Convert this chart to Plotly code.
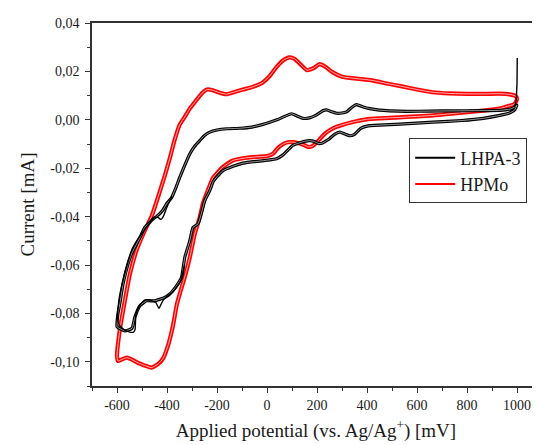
import plotly.graph_objects as go

# ---------------- data ----------------
# HPMo (red) : full cyclic loop, potential in mV, current in mA
hpmo_potential = [
    -600, -589, -569, -549, -522, -490, -462, -436, -410, -389, -370, -349, -329, -309,
    -285, -260, -240, -220, -190, -162, -130, -96, -60, -20, 10, 38, 64, 90, 110, 135,
    160, 185, 211, 235, 260, 300, 360, 420, 480, 540, 600, 660, 730, 800, 870, 930, 970,
    995, 1000,
    990, 970, 930, 865, 780, 664, 531, 450, 398, 340, 304, 270, 238, 215, 198, 180, 165,
    150, 131, 105, 84, 65, 45, 24, 0, -40, -82, -136, -176, -200, -216, -236, -256, -269,
    -289, -309, -329, -345, -360, -376, -395, -415, -436, -462, -490, -515, -542, -560,
    -580, -596, -600]
hpmo_current = [
    -0.0975, -0.0870, -0.0750, -0.0640, -0.0540, -0.0460, -0.0400, -0.0320, -0.0235,
    -0.0160, -0.0085, -0.0020, 0.0012, 0.0046, 0.0078, 0.0110, 0.0125, 0.0123, 0.0112,
    0.0106, 0.0115, 0.0125, 0.0135, 0.0152, 0.0180, 0.0218, 0.0245, 0.0258, 0.0252,
    0.0228, 0.0205, 0.0213, 0.0230, 0.0218, 0.0198, 0.0178, 0.0170, 0.0163, 0.0150,
    0.0138, 0.0125, 0.0114, 0.0109, 0.0107, 0.0107, 0.0108, 0.0105, 0.0098, 0.0085,
    0.0065, 0.0058, 0.0046, 0.0038, 0.0030, 0.0018, 0.0010, 0.0006, 0.0002, -0.0010,
    -0.0020, -0.0032, -0.0052, -0.0075, -0.0095, -0.0110, -0.0112, -0.0105, -0.0098,
    -0.0092, -0.0093, -0.0100, -0.0115, -0.0140, -0.0150, -0.0153, -0.0157, -0.0168,
    -0.0195, -0.0220, -0.0240, -0.0290, -0.0345, -0.0403, -0.0472, -0.0570, -0.0650,
    -0.0705, -0.0760, -0.0850, -0.0930, -0.0985, -0.1010, -0.1024, -0.1015, -0.1005,
    -0.0990, -0.0983, -0.0990, -0.0997, -0.0975]

# LHPA-3 (black) : main cyclic loop
lhpa_potential = [
    -600, -596, -589, -576, -556, -540, -522, -505, -489, -470, -456, -440, -420, -400,
    -382, -365, -349, -330, -309, -290, -269, -250, -229, -200, -160, -109, -60, -20, 11,
    40, 64, 98, 120, 144, 170, 195, 225, 238, 260, 278, 300, 318, 340, 358, 385, 411, 450,
    491, 560, 651, 750, 850, 931, 975, 995, 1000,
    990, 970, 931, 865, 780, 664, 531, 450, 400, 375, 350, 331, 310, 291, 270, 250, 238,
    220, 205, 190, 171, 150, 125, 104, 84, 64, 38, 0, -40, -69, -100, -136, -176, -200,
    -215, -229, -249, -262, -276, -296, -309, -329, -342, -362, -389, -409, -430, -449,
    -482, -509, -529, -540, -569, -596, -600]
lhpa_current = [
    -0.0855, -0.0800, -0.0762, -0.0679, -0.0596, -0.0550, -0.0514, -0.0480, -0.0445,
    -0.0425, -0.0410, -0.0398, -0.0378, -0.0345, -0.0322, -0.0282, -0.0238, -0.0190,
    -0.0141, -0.0110, -0.0086, -0.0065, -0.0051, -0.0042, -0.0037, -0.0035, -0.0030,
    -0.0020, -0.0010, 0.0000, 0.0011, 0.0025, 0.0016, 0.0006, 0.0008, 0.0018, 0.0038,
    0.0041, 0.0033, 0.0027, 0.0028, 0.0033, 0.0052, 0.0063, 0.0053, 0.0046, 0.0040,
    0.0037, 0.0035, 0.0036, 0.0037, 0.0038, 0.0039, 0.0045, 0.0055, 0.0060,
    0.0040, 0.0028, 0.0018, 0.0006, -0.0003, -0.0010, -0.0018, -0.0022, -0.0026,
    -0.0035, -0.0060, -0.0066, -0.0058, -0.0051, -0.0060, -0.0078, -0.0086, -0.0097,
    -0.0098, -0.0090, -0.0086, -0.0089, -0.0097, -0.0105, -0.0125, -0.0145, -0.0161,
    -0.0167, -0.0172, -0.0175, -0.0180, -0.0192, -0.0210, -0.0235, -0.0255, -0.0293,
    -0.0334, -0.0385, -0.0430, -0.0445, -0.0500, -0.0569, -0.0652, -0.0686, -0.0720,
    -0.0734, -0.0742, -0.0748, -0.0748, -0.0769, -0.0817, -0.0862, -0.0872, -0.0859,
    -0.0855]

# LHPA-3 (black) : second cycle where it departs from the first (cathodic end)
lhpa_cycle2_potential = [
    -330, -345, -360, -380, -400, -415, -425, -432, -445, -470, -490, -505, -518, -525,
    -528, -535, -555, -575, -592, -598, -596, -590, -580, -560, -540, -515, -490, -465,
    -450, -436, -425, -415, -400, -380]
lhpa_cycle2_current = [
    -0.0600, -0.0665, -0.0690, -0.0715, -0.0730, -0.0745, -0.0765, -0.0780, -0.0755,
    -0.0745, -0.0745, -0.0762, -0.0785, -0.0810, -0.0868, -0.0878, -0.0875, -0.0865,
    -0.0845, -0.0820, -0.0780, -0.0730, -0.0680, -0.0600, -0.0535, -0.0490, -0.0455,
    -0.0420, -0.0405, -0.0403, -0.0412, -0.0400, -0.0360, -0.0315]

# LHPA-3 (black) : final anodic spike at the upper vertex
lhpa_spike_potential = [990, 997, 1000, 1001]
lhpa_spike_current = [0.0052, 0.0080, 0.0150, 0.0255]

series_names = ["LHPA-3", "HPMo"]
series_colors = ["#000000", "#ff0000"]

x_tick_vals = [-600, -400, -200, 0, 200, 400, 600, 800, 1000]
x_tick_text = ["-600", "-400", "-200", "0", "200", "400", "600", "800", "1000"]
x_minor_vals = [-700, -500, -300, -100, 100, 300, 500, 700, 900]
y_tick_vals = [-0.10, -0.08, -0.06, -0.04, -0.02, 0.00, 0.02, 0.04]
y_tick_text = ["-0,10", "-0,08", "-0,06", "-0,04", "-0,02", "0,00", "0,02", "0,04"]
y_minor_vals = [-0.11, -0.09, -0.07, -0.05, -0.03, -0.01, 0.01, 0.03]

FONT = "Liberation Serif, Times New Roman, serif"
TXT = "#1a1a1a"

fig = go.Figure()

# red loop: thick red with a light centre line (overlapping cycles look)
fig.add_trace(go.Scatter(x=hpmo_potential, y=hpmo_current, mode="lines",
                         line=dict(color=series_colors[1], width=4.2, shape="spline", smoothing=0.5),
                         showlegend=False, hoverinfo="skip"))
fig.add_trace(go.Scatter(x=hpmo_potential, y=hpmo_current, mode="lines",
                         line=dict(color="#ffc8c8", width=0.9, shape="spline", smoothing=0.5),
                         showlegend=False, hoverinfo="skip"))

# black loop
fig.add_trace(go.Scatter(x=lhpa_potential, y=lhpa_current, mode="lines",
                         line=dict(color=series_colors[0], width=3.2, shape="spline", smoothing=0.4),
                         showlegend=False, hoverinfo="skip"))
fig.add_trace(go.Scatter(x=lhpa_potential, y=lhpa_current, mode="lines",
                         line=dict(color="#d8d8d8", width=0.7, shape="spline", smoothing=0.4),
                         showlegend=False, hoverinfo="skip"))
fig.add_trace(go.Scatter(x=lhpa_cycle2_potential, y=lhpa_cycle2_current, mode="lines",
                         line=dict(color=series_colors[0], width=1.4, shape="spline", smoothing=0.4),
                         showlegend=False, hoverinfo="skip"))
fig.add_trace(go.Scatter(x=lhpa_spike_potential, y=lhpa_spike_current, mode="lines",
                         line=dict(color=series_colors[0], width=1.4),
                         showlegend=False, hoverinfo="skip"))

# legend entries
for name, col in zip(series_names, series_colors):
    fig.add_trace(go.Scatter(x=[None], y=[None], mode="lines", name=name,
                             line=dict(color=col, width=2)))

axis_common = dict(
    showline=True, linecolor="#333333", linewidth=1.5,
    ticks="outside", tickcolor="#333333", tickwidth=1.3, ticklen=5,
    showgrid=False, zeroline=False, automargin=False,
    tickfont=dict(family=FONT, size=14, color=TXT),
)

# the page has an 8px body margin, so the figure is sized to fill the window
fig.update_layout(
    width=532, height=437,
    margin=dict(l=84, r=0, t=15, b=59),
    paper_bgcolor="white", plot_bgcolor="white",
    font=dict(family=FONT, color=TXT),
    xaxis=dict(range=[-700, 1092], tickmode="array", tickvals=x_tick_vals, ticktext=x_tick_text,
               mirror=True,
               minor=dict(tickmode="array", tickvals=x_minor_vals, ticks="outside", ticklen=3,
                          tickcolor="#333333", tickwidth=1.2),
               title=dict(text="Applied potential (vs. Ag/Ag<sup>+</sup>) [mV]",
                          font=dict(family=FONT, size=19, color=TXT), standoff=12),
               **axis_common),
    yaxis=dict(range=[-0.11, 0.04], tickmode="array", tickvals=y_tick_vals, ticktext=y_tick_text,
               ticklabelstandoff=3,
               minor=dict(tickmode="array", tickvals=y_minor_vals, ticks="outside", ticklen=3,
                          tickcolor="#333333", tickwidth=1.2),
               title=dict(text="Current [mA]", font=dict(family=FONT, size=19, color=TXT),
                          standoff=11),
               **axis_common),
    legend=dict(x=0.708, y=0.682, xanchor="left", yanchor="top",
                bgcolor="white", bordercolor="#333333", borderwidth=1,
                font=dict(family=FONT, size=18, color=TXT),
                itemwidth=40, tracegroupgap=0),
)

fig.write_html("out.html")
